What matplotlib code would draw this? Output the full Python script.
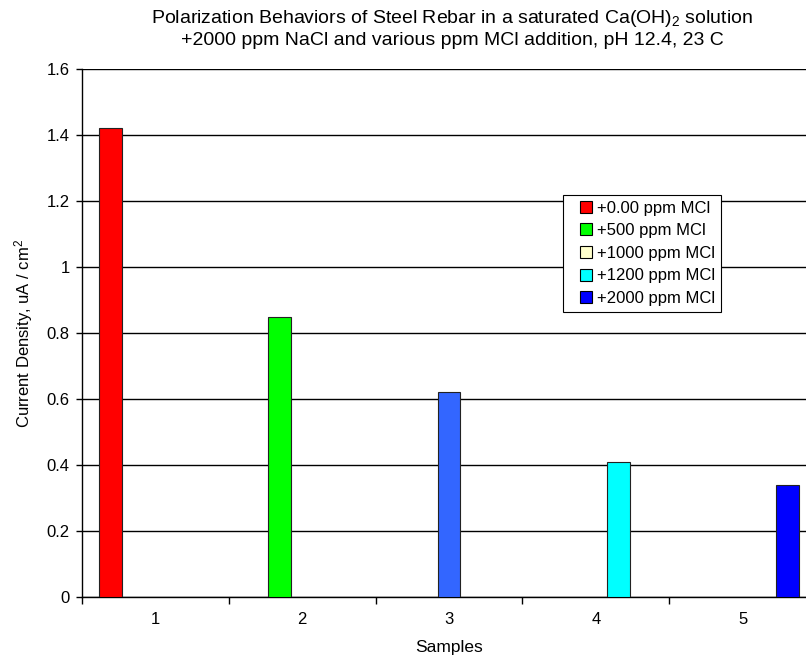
import numpy as np
import matplotlib
matplotlib.use("Agg")
import matplotlib.pyplot as plt
from matplotlib.lines import Line2D

plt.rcParams['font.family'] = ['Liberation Sans', 'DejaVu Sans']
plt.rcParams['mathtext.fontset'] = 'custom'
plt.rcParams['mathtext.rm'] = 'Liberation Sans'
plt.rcParams['mathtext.it'] = 'Liberation Sans:italic'

# data
samples = [1, 2, 3, 4, 5]
series_labels = ['+0.00 ppm MCl', '+500 ppm MCl', '+1000 ppm MCl',
                 '+1200 ppm MCl', '+2000 ppm MCl']
current_density = [1.42, 0.85, 0.62, 0.41, 0.34]   # one value per series, in its own sample
legend_colors = ['#FF0000', '#00FF00', '#FFFFCC', '#00FFFF', '#0000FF']
bar_colors = ['#FF0000', '#00FF00', '#3366FF', '#00FFFF', '#0000FF']

fig = plt.figure(figsize=(8.06, 6.57), dpi=100)
ax = fig.add_axes([82 / 806, 60 / 657, 734 / 806, 528 / 657])

n = len(series_labels)
bw = 1 / (n + 1.5)   # excel style gap width 150%
for k in range(n):
    x = samples[k] + (k - (n - 1) / 2) * bw
    ax.bar(x, current_density[k], width=bw, color=bar_colors[k],
           edgecolor='#222222', linewidth=0.8, zorder=3)

ax.set_xlim(0.5, 5.5)
ax.set_ylim(0, 1.6)
ax.set_yticks(np.arange(0, 1.61, 0.2))
ax.set_yticklabels(['0', '0.2', '0.4', '0.6', '0.8', '1', '1.2', '1.4', '1.6'])
ax.yaxis.grid(True, color='black', linewidth=1)
ax.set_axisbelow(True)

ax.set_xticks(np.arange(0.5, 5.6, 1))
ax.set_xticklabels([])
ax.set_xticks(samples, minor=True)
ax.set_xticklabels([str(s) for s in samples], minor=True)
ax.tick_params(axis='x', which='major', direction='out', length=5, width=1)
ax.tick_params(axis='x', which='minor', length=0, pad=11, labelsize=12)
ax.tick_params(axis='y', direction='out', length=4, width=1, labelsize=12, pad=5)

for s in ['top', 'right']:
    ax.spines[s].set_visible(False)
ax.spines['left'].set_linewidth(1)
ax.spines['bottom'].set_linewidth(1)

ax.set_xlabel('Samples', fontsize=12.5, labelpad=9)
ax.set_ylabel('Current Density, uA / cm$^2$', fontsize=12, labelpad=8)

fig.text(452 / 806, 1 - 8 / 657,
         'Polarization Behaviors of Steel Rebar in a saturated Ca(OH)$_2$ solution\n'
         '+2000 ppm NaCl and various ppm MCl addition, pH 12.4, 23 C',
         ha='center', va='top', fontsize=14, linespacing=1.2)

handles = [Line2D([], [], linestyle='none', marker='s', markersize=8.5,
                  markerfacecolor=c, markeredgecolor='black', markeredgewidth=0.8)
           for c in legend_colors]
leg = ax.legend(handles, series_labels, loc='upper left',
                bbox_to_anchor=(563 / 806, 1 - 195 / 657), bbox_transform=fig.transFigure,
                fontsize=12, frameon=True, fancybox=False, framealpha=1,
                handlelength=2.0, handletextpad=-0.3,
                labelspacing=0.45, borderpad=0.35, borderaxespad=0)
leg.get_frame().set_edgecolor('black')
leg.get_frame().set_linewidth(0.8)

fig.savefig('out.png', dpi=100)
